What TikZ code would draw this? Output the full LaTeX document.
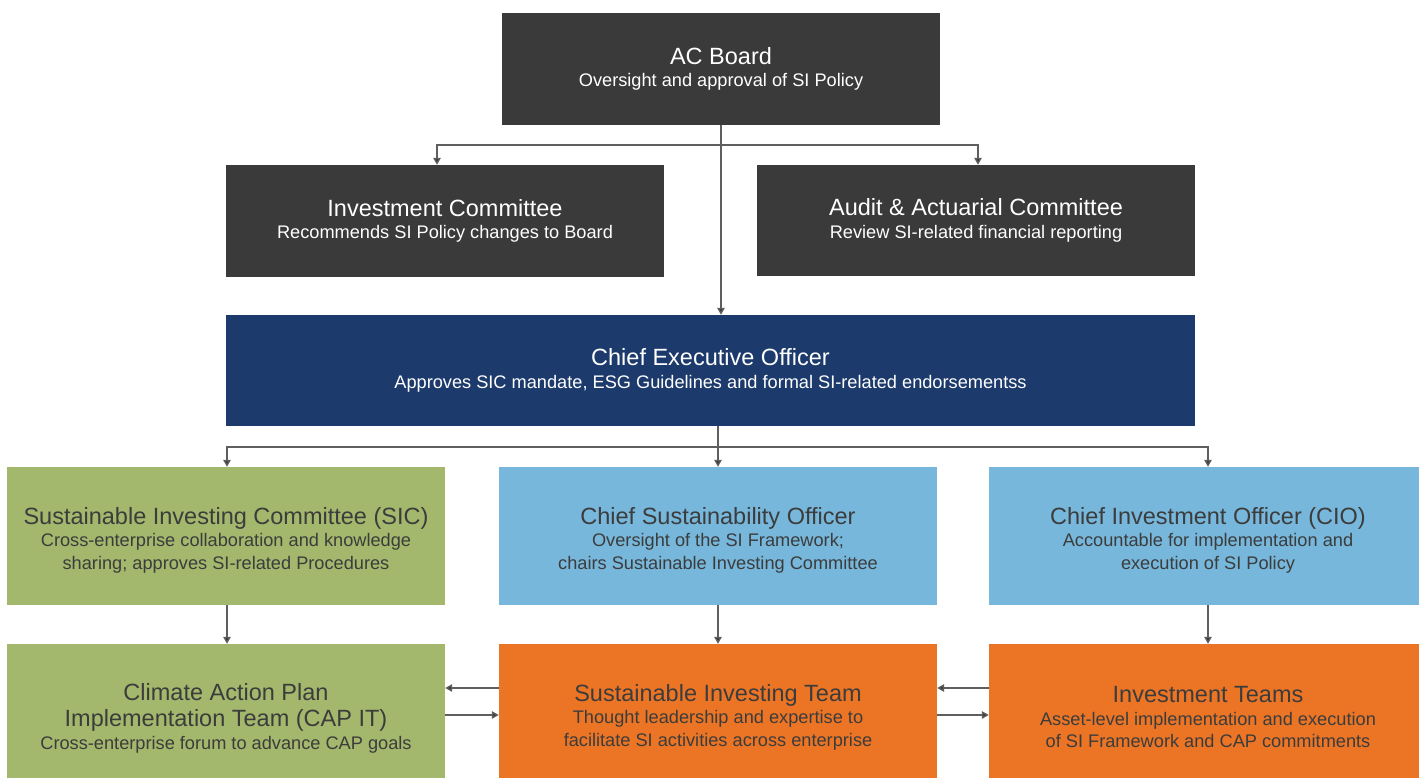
\documentclass[tikz,border=0pt]{standalone}
\usepackage{fontspec}
\setmainfont{Liberation Sans}
\usetikzlibrary{arrows.meta}
\definecolor{darkbox}{HTML}{3A3A3A}
\definecolor{navy}{HTML}{1C3A6B}
\definecolor{sgreen}{HTML}{A3B86C}
\definecolor{sblue}{HTML}{76B7DB}
\definecolor{sorange}{HTML}{EB7525}
\definecolor{txtdark}{HTML}{3C3C3C}
\definecolor{conn}{HTML}{5F5F5F}
\definecolor{tipc}{HTML}{3A3A3A}
\newcommand\ttl[1]{{\fontsize{23.5}{22.4}\selectfont #1}}
\begin{document}
\begin{tikzpicture}[x=1pt,y=-1pt,
  box/.style={rectangle, inner sep=0pt, minimum width=438pt, align=center,
    font=\fontsize{18.2}{22.4}\selectfont},
  topbox/.style={box, fill=darkbox, text=white, minimum height=112pt},
  ceobox/.style={box, fill=navy, text=white, minimum width=969pt, minimum height=111pt},
  midbox/.style={box, minimum height=138pt},
  greenbox/.style={midbox, fill=sgreen},
  bluebox/.style={midbox, fill=sblue},
  orangebox/.style={midbox, fill=sorange},
  boxtext/.style={inner sep=0pt, align=center, text=txtdark,
    font=\fontsize{18.2}{22.4}\selectfont},
  link/.style={draw=conn, line width=1.3pt},
  arr/.style={link, -{Triangle[length=7pt,width=7.5pt,fill=tipc]}}
]
\useasboundingbox (0,0) rectangle (1419,777);
\fill[white] (0,0) rectangle (1419,777);

\node[topbox] (ac) at (721,69) {\ttl{AC Board}\\ Oversight and approval of SI Policy};
\node[topbox] (ic) at (445,221) {\ttl{Investment Committee}\\ Recommends SI Policy changes to Board};
\node[topbox, minimum height=111pt] (aud) at (976,220.5) {\ttl{Audit \& Actuarial Committee}\\ Review SI-related financial reporting};
\node[ceobox] (ceo) at (710.5,370.5) {\ttl{Chief Executive Officer}\\ Approves SIC mandate, ESG Guidelines and formal SI-related endorsementss};

\node[greenbox] (sic) at (226,536) {};
\node[bluebox] (cso) at (718,536) {};
\node[bluebox] (cio) at (1208,536) {};
\node[greenbox] (cap) at (226,713) {};
\node[orangebox] (sit) at (718,713) {};
\node[orangebox] (it) at (1208,713) {};

\node[boxtext] (sict) at ([yshift=-4pt]sic.center) {\ttl{Sustainable Investing Committee (SIC)}\\ Cross-enterprise collaboration and knowledge\\ sharing; approves SI-related Procedures};
\node[boxtext] (csot) at ([yshift=-4pt]cso.center) {\ttl{Chief Sustainability Officer}\\ Oversight of the SI Framework;\\ chairs Sustainable Investing Committee};
\node[boxtext] (ciot) at ([yshift=-4pt]cio.center) {\ttl{Chief Investment Officer (CIO)}\\ Accountable for implementation and\\ execution of SI Policy};
\node[boxtext] (capt) at ([yshift=-5pt]cap.center) {\ttl{Climate Action Plan}\\[4pt] \ttl{Implementation Team (CAP IT)}\\ Cross-enterprise forum to advance CAP goals};
\node[boxtext] (sitt) at ([yshift=-4pt]sit.center) {\ttl{Sustainable Investing Team}\\ Thought leadership and expertise to\\ facilitate SI activities across enterprise};
\node[boxtext] (itt) at ([yshift=-4pt]it.center) {\ttl{Investment Teams}\\ Asset-level implementation and execution\\ of SI Framework and CAP commitments};

% board level
\coordinate (j1) at (721,145);
\draw[arr] (ac.south) -- (ac.south |- ceo.north);
\draw[arr] (j1) -| ([xshift=-8pt]ic.north);
\draw[arr] (j1) -| ([xshift=2pt]aud.north);

% CEO level
\coordinate (j2) at (718,447);
\draw[link] (j2 |- ceo.south) -- (j2);
\draw[arr] (j2) -| ([xshift=1pt]sic.north);
\draw[arr] (j2) -- (cso.north);
\draw[arr] (j2) -| (cio.north);

% vertical
\draw[arr] ([xshift=1pt]sic.south) -- ([xshift=1pt]cap.north);
\draw[arr] (cso.south) -- (sit.north);
\draw[arr] (cio.south) -- (it.north);

% horizontal
\draw[arr] (sit.west |- 0,688) -- (cap.east |- 0,688);
\draw[arr] (cap.east |- 0,715) -- (sit.west |- 0,715);
\draw[arr] (it.west |- 0,688) -- (sit.east |- 0,688);
\draw[arr] (sit.east |- 0,715) -- (it.west |- 0,715);
\end{tikzpicture}
\end{document}
